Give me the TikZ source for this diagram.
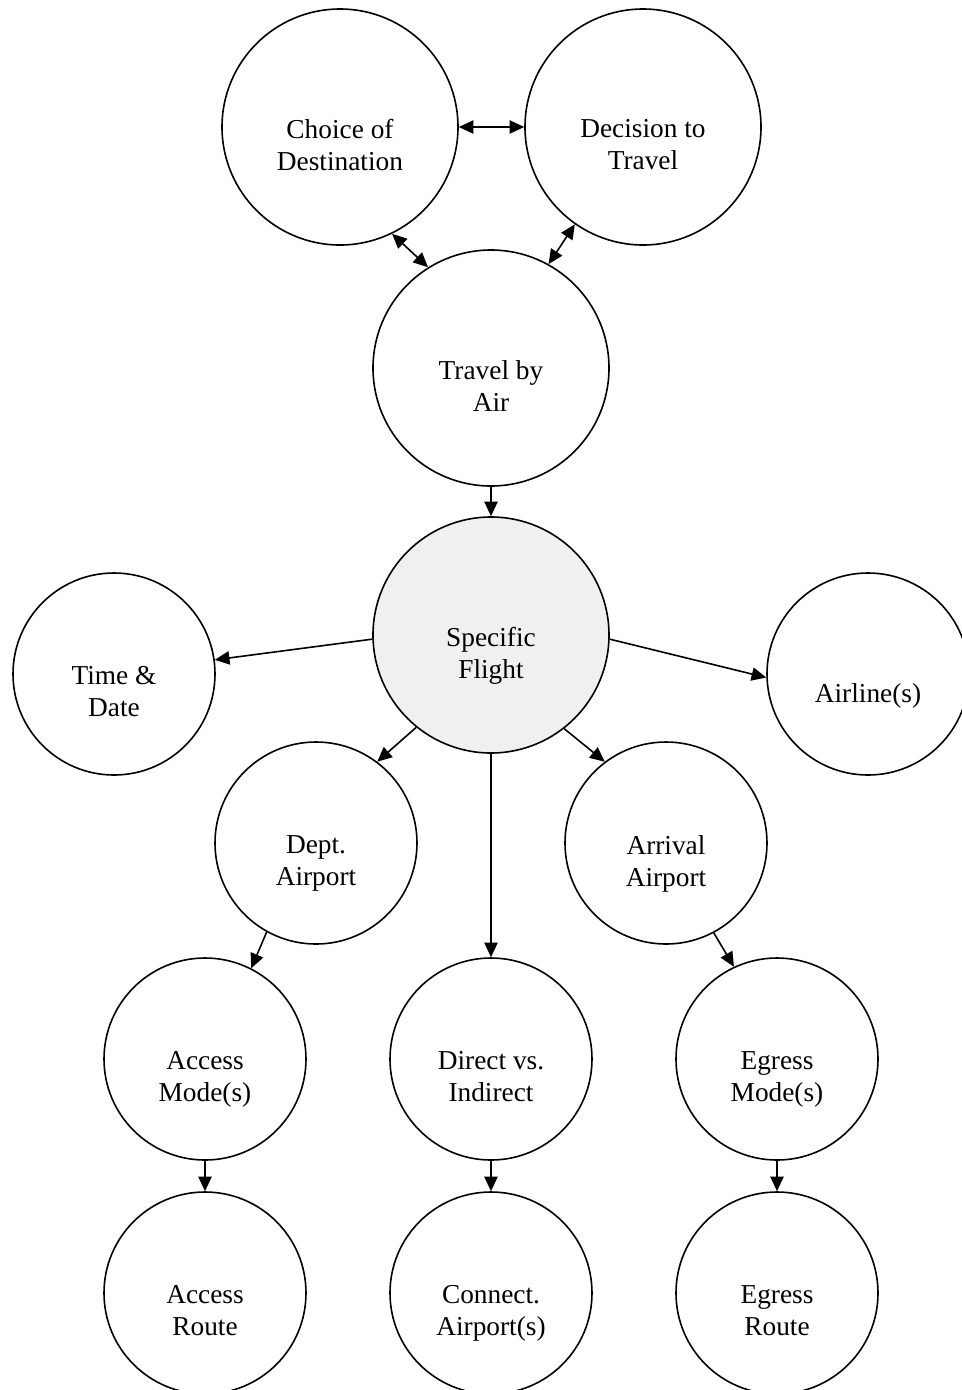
\documentclass[tikz,border=0pt]{standalone}
\usepackage{fontspec}
\setmainfont{Liberation Serif}
\usetikzlibrary{arrows.meta}
\definecolor{flightgray}{RGB}{240,240,240}
\begin{document}
\begin{tikzpicture}[x=0.75pt,y=-0.75pt,
  bigc/.style={circle,draw,line width=1.2pt,minimum size=177pt,inner sep=0pt},
  smallc/.style={circle,draw,line width=1.2pt,minimum size=151.5pt,inner sep=0pt},
  lab/.style={font=\fontsize{20.5}{24}\selectfont,align=center,yshift=-16.9pt,inner sep=0pt,
    execute at begin node=\strut,execute at end node=\strut},
  arr/.style={line width=1.2pt,-{Triangle[length=11pt,width=10pt]}},
  darr/.style={line width=1.2pt,{Triangle[length=11pt,width=10pt]}-{Triangle[length=11pt,width=10pt]}}]
\useasboundingbox (0,0) rectangle (962,1390);
% big circles
\node[bigc,label={[lab]center:{Choice of\\Destination}}] (cd) at (340,127) {};
\node[bigc,label={[lab]center:{Decision to\\Travel}}] (dt) at (643,127) {};
\node[bigc,label={[lab]center:{Travel by\\Air}}] (tba) at (491,368) {};
\node[bigc,fill=flightgray,label={[lab]center:{Specific\\Flight}}] (sf) at (491,635) {};
% small circles
\node[smallc,label={[lab]center:{Time \&\\Date}}] (td) at (114,674) {};
\node[smallc,label={[lab]center:{Airline(s)}}] (al) at (868,674) {};
\node[smallc,label={[lab]center:{Dept.\\Airport}}] (da) at (316,843) {};
\node[smallc,label={[lab]center:{Arrival\\Airport}}] (aa) at (666,843) {};
\node[smallc,label={[lab]center:{Access\\Mode(s)}}] (am) at (205,1059) {};
\node[smallc,label={[lab]center:{Direct vs.\\Indirect}}] (dvi) at (491,1059) {};
\node[smallc,label={[lab]center:{Egress\\Mode(s)}}] (em) at (777,1059) {};
\node[smallc,label={[lab]center:{Access\\Route}}] (ar) at (205,1293) {};
\node[smallc,label={[lab]center:{Connect.\\Airport(s)}}] (ca) at (491,1293) {};
\node[smallc,label={[lab]center:{Egress\\Route}}] (er) at (777,1293) {};
% connectors
\draw[darr] (cd.east) -- (dt.west);
\draw[darr] (cd.-64) -- (tba.122.6);
\draw[darr] (dt.235) -- (tba.61.4);
\draw[arr] (tba.south) -- (sf.north);
\draw[arr] (sf.182.4) -- (td.8.9);
\draw[arr] (sf.-2.9) -- (al.182);
\draw[arr] (sf.231.5) -- (da.53);
\draw[arr] (sf.308.5) -- (aa.127);
\draw[arr] (sf.south) -- (dvi.north);
\draw[arr] (da.241) -- (am.63);
\draw[arr] (aa.298) -- (em.115);
\draw[arr] (am.south) -- (ar.north);
\draw[arr] (dvi.south) -- (ca.north);
\draw[arr] (em.south) -- (er.north);
\end{tikzpicture}
\end{document}
